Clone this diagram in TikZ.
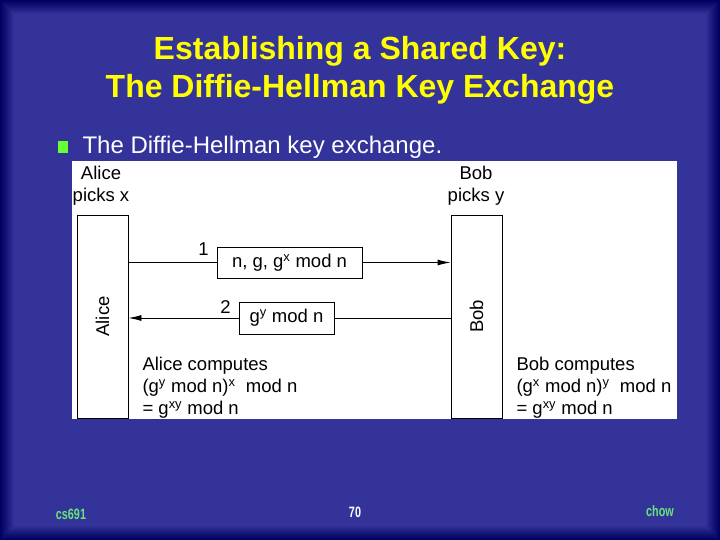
\documentclass[tikz,border=0pt]{standalone}
\usepackage{fontspec}
\setmainfont{Liberation Sans}
\usetikzlibrary{arrows.meta}

\definecolor{slidebg}{RGB}{51,51,153}
\definecolor{slideedge}{RGB}{0,0,96}
\definecolor{titleyellow}{RGB}{255,255,0}
\definecolor{bulletgreen}{RGB}{102,255,51}
\definecolor{footgreen}{RGB}{102,230,120}

\newcommand{\sx}[1]{\textsuperscript{#1}}

\tikzset{
  party/.style={draw,line width=.9pt,minimum width=51pt,minimum height=203pt,inner sep=0pt},
  msgbox/.style={draw,line width=.9pt,fill=white,inner sep=0pt},
  wire/.style={line width=.9pt},
  msg/.style={wire,-{Latex[length=13pt,width=6pt]}},
  diag/.style={font=\fontsize{18.5}{22}\selectfont},
  foot/.style={font=\fontsize{15}{17}\selectfont\bfseries},
}

\begin{document}
\begin{tikzpicture}[x=1pt,y=-1pt]
  \useasboundingbox (0,0) rectangle (720,540);
  % slide background, darker towards the edges
  \fill[slideedge] (0,0) rectangle (720,540);
  \foreach \i in {0,...,14}{
    \pgfmathsetmacro{\p}{int(100*\i/14)}
    \fill[slidebg!\p!slideedge] (\i,\i) rectangle (720-\i,540-\i);
  }
  \node[font=\fontsize{32}{38}\selectfont\bfseries,text=titleyellow,align=center] (title)
    at (360,70) {Establishing a Shared Key:\\The Diffie-Hellman Key Exchange};
  \fill[bulletgreen] (58,141) rectangle (68,153);
  \node[anchor=west,text=white,font=\fontsize{24}{28}\selectfont] (point)
    at (79,147) {The Diffie-Hellman key exchange.};
  % the figure
  \fill[white] (72,161) rectangle (677,419);
  \node[party] (alice) at (102.5,316.5) {};
  \node[party] (bob) at (476.5,316.5) {};
  \node[diag,rotate=90] (aname) at (alice) {Alice};
  \node[diag,rotate=90] (bname) at (bob) {Bob};
  \node[diag,align=center] (apick) at (101,186) {Alice\\picks x};
  \node[diag,align=center] (bpick) at (476,186) {Bob\\picks y};
  \node[diag,msgbox,minimum width=145pt,minimum height=31pt] (m1) at (289.5,262.5) {n, g, g\sx{x} mod n};
  \node[diag,msgbox,minimum width=95pt,minimum height=32pt] (m2) at (286.5,318) {g\sx{y} mod n};
  \draw[wire] (alice.east |- m1.west) -- (m1.west);
  \draw[msg] (m1.east) -- (bob.west |- m1.east);
  \draw[wire] (bob.west |- m2.east) -- (m2.east);
  \draw[msg] (m2.west) -- (alice.east |- m2.west);
  \node[diag] (n1) at (203.5,249) {1};
  \node[diag] (n2) at (225.5,307) {2};
  \node[diag,anchor=north west,align=left] (acomp) at (139,354)
    {Alice computes\\(g\sx{y} mod n)\sx{x}~~mod n\\= g\sx{xy} mod n};
  \node[diag,anchor=north west,align=left] (bcomp) at (513,354)
    {Bob computes\\(g\sx{x} mod n)\sx{y}~~mod n\\= g\sx{xy} mod n};
  % footer
  \node[foot,text=footgreen] (course) at (71,514) {\scalebox{.72}[1]{cs691}};
  \node[foot,text=white] (page) at (355,512) {\scalebox{.72}[1]{70}};
  \node[foot,text=footgreen] (who) at (660,511) {\scalebox{.72}[1]{chow}};
\end{tikzpicture}
\end{document}
